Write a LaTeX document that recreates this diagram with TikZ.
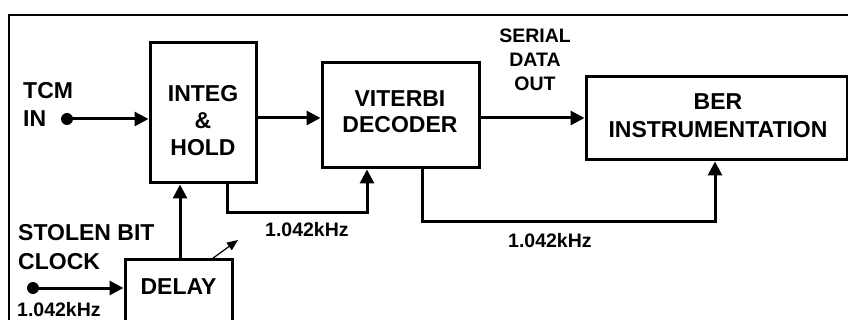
\documentclass[tikz,border=0pt]{standalone}
\usepackage{fontspec}
\setmainfont{Liberation Sans}
\usetikzlibrary{arrows.meta}
\begin{document}
\begin{tikzpicture}[x=1pt,y=-1pt,
  box/.style={draw,line width=3pt,fill=white,inner sep=0pt,rectangle},
  big/.style={font=\fontsize{23}{28}\selectfont\bfseries,inner sep=0pt},
  small/.style={font=\fontsize{19.5}{24}\selectfont\bfseries,inner sep=0pt},
  wire/.style={line width=3pt,line join=miter},
  arr/.style={wire,-{Triangle[length=14pt,width=14pt]}},
  thinarr/.style={line width=1.2pt,-{Triangle[length=11pt,width=9pt]}},
  dot/.style={circle,fill=black,inner sep=0pt,minimum size=12pt},
  frame/.style={line width=2.2pt}]
\useasboundingbox (0,0) rectangle (848,320);
\clip (0,0) rectangle (848,320);
% outer frame
\coordinate (fbl) at (9,330);
\coordinate (ftl) at (9,15);
\coordinate (ftr) at (870,15);
\draw[frame] (fbl) -- (ftl) -- (ftr);
% variable delay arrow (behind the delay box)
\coordinate (dgA) at (125,322);
\coordinate (dgB) at (238,240);
\draw[thinarr] (dgA) -- (dgB);
% boxes
\node[box,minimum width=106pt,minimum height=140pt] (integ) at (203,113) {};
\node[box,minimum width=157pt,minimum height=105pt] (viterbi) at (400.5,115.5) {};
\node[box,minimum width=261pt,minimum height=83pt] (ber) at (716.5,118.5) {};
\node[box,minimum width=107pt,minimum height=70pt] (delay) at (178.5,295) {};
% box texts
\node[big,align=center,anchor=north,font=\fontsize{23}{27}\selectfont\bfseries] (integT) at (203,85) {INTEG\\\&\\HOLD};
\node[big,align=center,anchor=north,font=\fontsize{23}{26.5}\selectfont\bfseries] (viterbiT) at (400,90) {VITERBI\\DECODER};
\node[big,align=center,anchor=north] (berT) at (718,93) {BER\\INSTRUMENTATION};
\node[big,anchor=north] (delayT) at (178.5,278) {DELAY};
% free texts
\node[big,align=left,anchor=north west] (tcm) at (23,82) {TCM\\IN};
\node[big,align=left,anchor=north west,font=\fontsize{23}{29}\selectfont\bfseries] (stolen) at (18,224) {STOLEN BIT\\CLOCK};
\node[small,align=center,anchor=north] (serial) at (535,29) {SERIAL\\DATA\\OUT};
\node[small,anchor=north west] (f1) at (265,222) {1.042kHz};
\node[small,anchor=north west] (f2) at (508,233) {1.042kHz};
\node[small,anchor=north west] (f3) at (17,302) {1.042kHz};
% input dots
\node[dot] (tcmdot) at (67,119) {};
\node[dot] (sdot) at (33,288) {};
% connectors
\draw[arr] (tcmdot.center) -- (tcmdot -| integ.west);
\coordinate (y1) at (0,118);
\draw[arr] (integ.east |- y1) -- (viterbi.west |- y1);
\draw[arr] (viterbi.east |- y1) -- (ber.west |- y1);
\coordinate (k1) at (227,213);
\coordinate (k2) at (367,213);
\draw[arr] (integ.south -| k1) -- (k1) -- (k2) -- (k2 |- viterbi.south);
\coordinate (k3) at (422,222);
\coordinate (k4) at (715,222);
\draw[arr] (viterbi.south -| k3) -- (k3) -- (k4) -- (k4 |- ber.south);
\coordinate (k5) at (180,0);
\draw[arr] (delay.north -| k5) -- (k5 |- integ.south);
\draw[arr] (sdot.center) -- (sdot -| delay.west);
\end{tikzpicture}
\end{document}
